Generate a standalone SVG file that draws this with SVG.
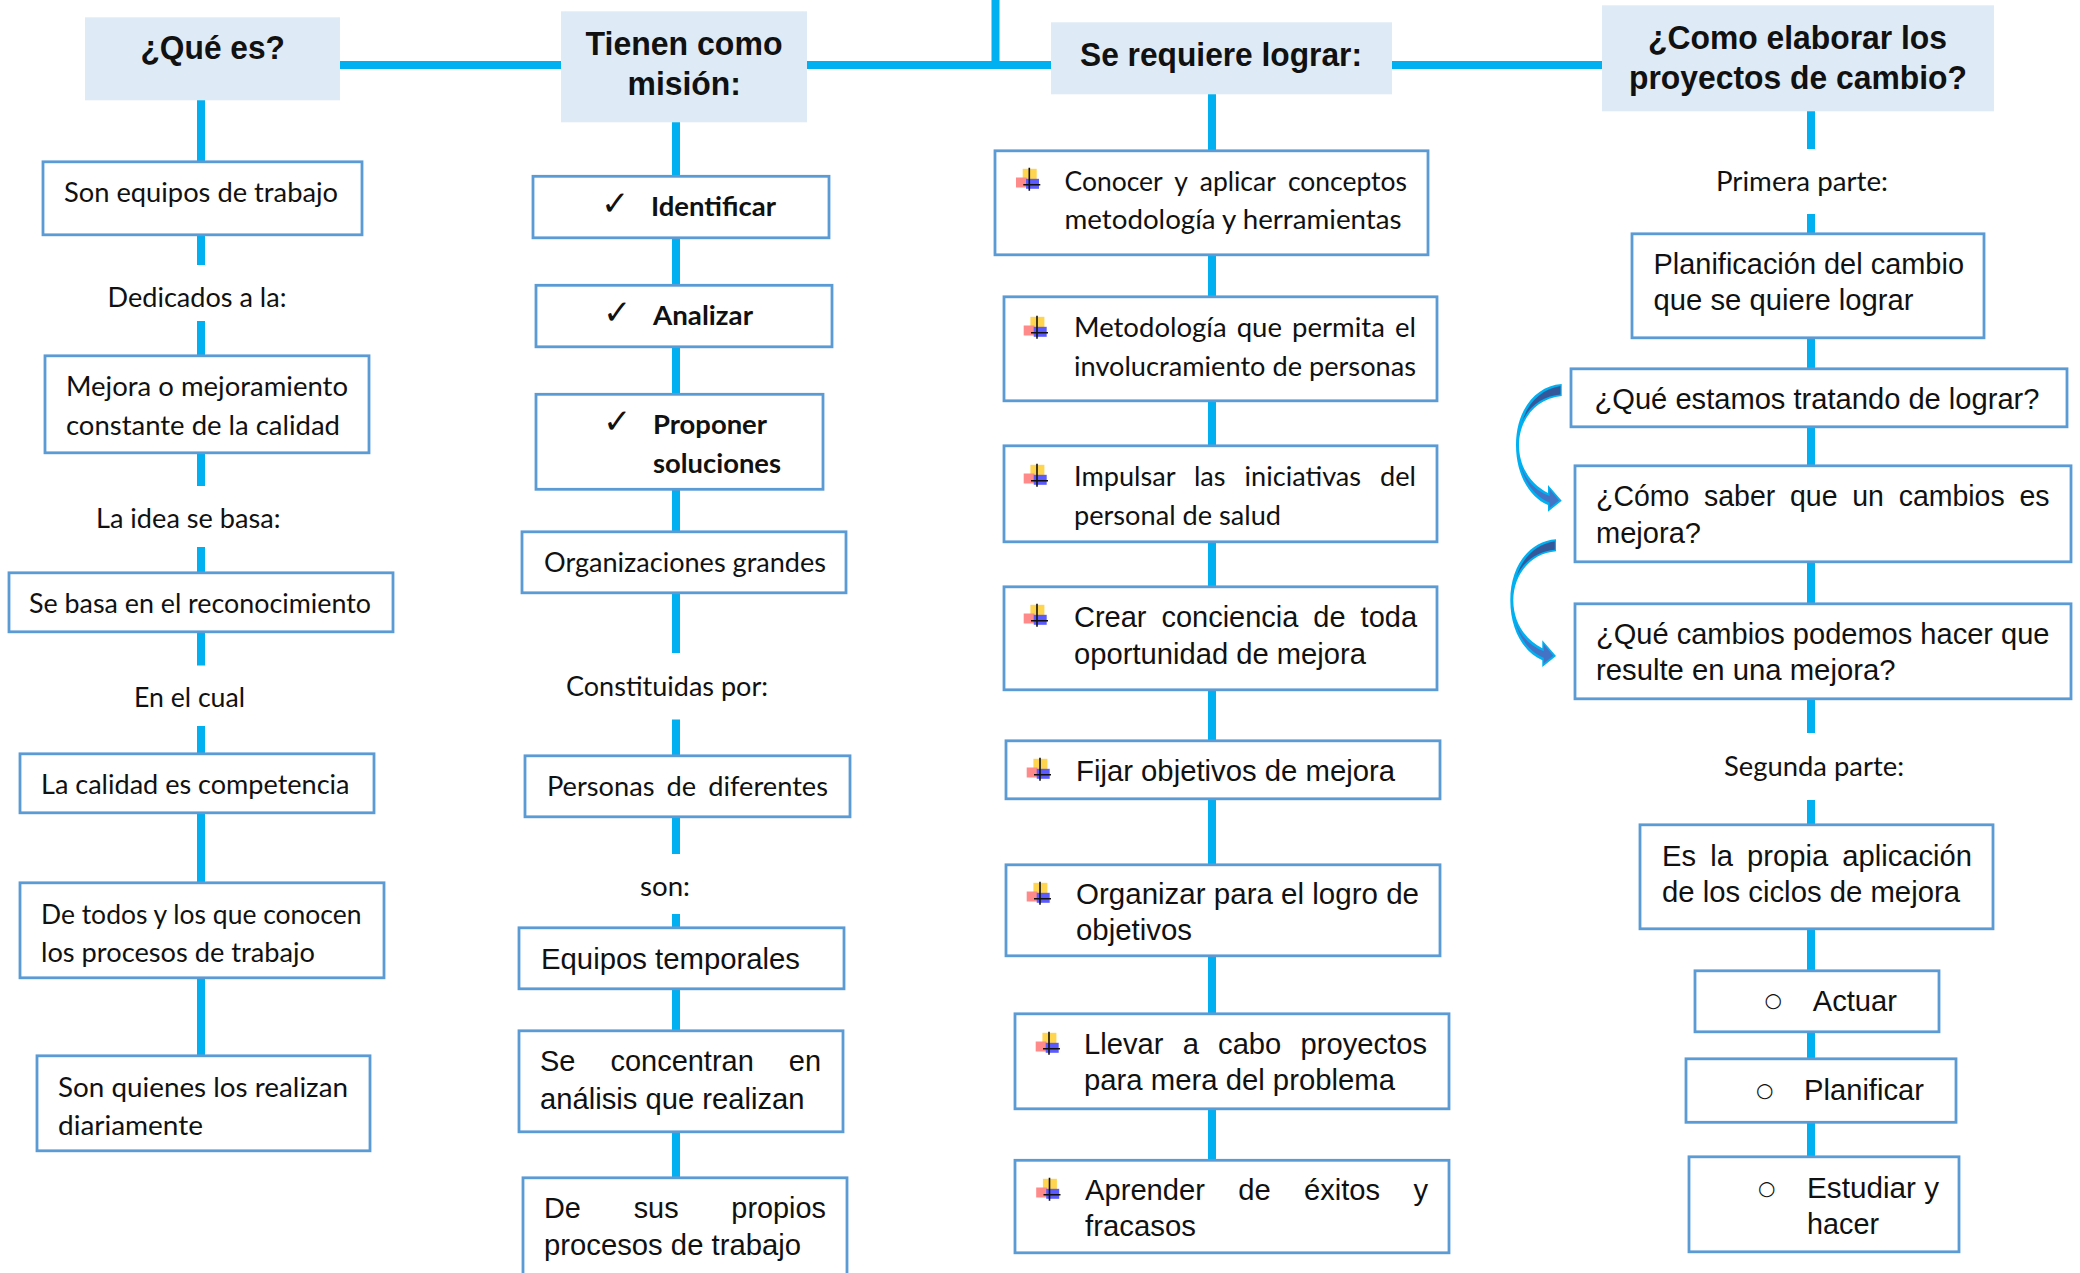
<svg xmlns="http://www.w3.org/2000/svg" xmlns:xlink="http://www.w3.org/1999/xlink" width="2080" height="1273" viewBox="0 0 2080 1273">
<style>
text{fill:#111;white-space:pre}
.b{fill:#fff;stroke:#5b9bd5;stroke-width:2.800}
.h{fill:#deeaf6}
.c{font-family:"Lato","Carlito","Liberation Sans",sans-serif;font-size:27px}
.cb{font-family:"Lato","Liberation Sans",sans-serif;font-size:27px;font-weight:700}
.a{font-family:"Liberation Sans",Arial,sans-serif;font-size:29px;transform:translateY(1.200px)}
.t{font-family:"Liberation Sans",Arial,sans-serif;font-size:33px;font-weight:700}
.k{font-family:"DejaVu Sans",sans-serif;font-size:34px}
.o{font-family:"DejaVu Sans",sans-serif;font-size:20px}
#connectors path{stroke:#00b0f0;stroke-width:8;fill:none}
</style>
<defs>
<filter id="soft" x="-20%" y="-20%" width="140%" height="140%"><feGaussianBlur stdDeviation="0.6"/></filter>
<g id="bullet">
<g filter="url(#soft)"><rect x="-6.6" y="1" width="14" height="12" fill="#ffd54f"/><rect x="-13.3" y="9.7" width="10.7" height="10" fill="#ff8a8a"/><rect x="-3.3" y="11" width="13" height="10" fill="#5a5aff"/></g>
<path d="M0 0V23M-6 17H11" stroke="#111" stroke-width="1.6" fill="none"/>
</g>
<g id="curve">
<path d="M1561.7 384V396C1536 398 1519 420 1519 445C1519 468 1532 485 1548 493V485L1561.7 500.7L1548 511.7V505C1529 497 1516 474 1516 445C1516 412 1534 386 1561.7 384Z" fill="#00b0f0"/>
<path d="M1560.5 386V394.5C1545 396 1530 404 1522 422C1528 402 1542 389 1560.5 386Z" fill="#34589a"/>
<path d="M1549.5 489L1559 500.5L1549.5 508V502.5C1536 497 1525 484 1521 466C1526 481 1536 491 1549.5 496Z" fill="#4472c4"/>
</g>
</defs>
<rect width="2080" height="1273" fill="#fff"/>
<g id="connectors">
<path d="M340 65H561M807 65H1051M1392 65H1602M995.5 0V65"/>
<path d="M201 100V161M201 234V265M201 321V355M201 452V486M201 547V572M201 631V665.500M201 726V753M201 812V882M201 977V1055"/>
<path d="M676 122V175.500M676 237V284.500M676 346V393.500M676 488.600V531M676 592V653M676 719.500V755M676 816V854M676 914V927M676 988V1030M676 1131V1177"/>
<path d="M1212 94V150M1212 254V296M1212 400V445M1212 541V586M1212 689V740M1212 798V864M1212 955V1013M1212 1108V1159.500"/>
<path d="M1811 111V149M1811 214V233M1811 337V368M1811 426V465M1811 561V603M1811 698V733M1811 800V824M1811 928V970M1811 1031V1058M1811 1121.500V1156"/>
<use href="#curve" xlink:href="#curve"/>
<use href="#curve" xlink:href="#curve" transform="translate(-5.700 155.200)"/>
</g>
<g id="nodes" transform="translate(0 0.800)">
<g id="h1"><rect class="h" x="85" y="16.500" width="255" height="83"/><text class="t" x="140.500" y="58" textLength="144.500" lengthAdjust="spacingAndGlyphs">¿Qué es?</text></g>
<g id="h2"><rect class="h" x="561" y="10.500" width="246" height="111"/><text class="t" x="585.500" y="54" textLength="197" lengthAdjust="spacingAndGlyphs">Tienen como</text><text class="t" x="627.500" y="94" textLength="113.500" lengthAdjust="spacingAndGlyphs">misión:</text></g>
<g id="h3"><rect class="h" x="1051" y="21.500" width="341" height="72"/><text class="t" x="1080" y="65" textLength="282" lengthAdjust="spacingAndGlyphs">Se requiere lograr:</text></g>
<g id="h4"><rect class="h" x="1602" y="4.500" width="392" height="106"/><text class="t" x="1648" y="48" textLength="299" lengthAdjust="spacingAndGlyphs">¿Como elaborar los</text><text class="t" x="1629" y="88" textLength="338" lengthAdjust="spacingAndGlyphs">proyectos de cambio?</text></g>

<g id="n1a"><rect class="b" x="43" y="161" width="319" height="73"/><text class="c" x="64" y="201" textLength="274" lengthAdjust="spacingAndGlyphs">Son equipos de trabajo</text></g>
<g id="l1a"><text class="c" x="107.500" y="306" textLength="179" lengthAdjust="spacingAndGlyphs">Dedicados a la:</text></g>
<g id="n1b"><rect class="b" x="45" y="355" width="324" height="97"/><text class="c" x="66" y="395" textLength="282" lengthAdjust="spacingAndGlyphs">Mejora o mejoramiento</text><text class="c" x="66" y="434" textLength="274" lengthAdjust="spacingAndGlyphs">constante de la calidad</text></g>
<g id="l1b"><text class="c" x="96" y="527" textLength="184.500" lengthAdjust="spacingAndGlyphs">La idea se basa:</text></g>
<g id="n1c"><rect class="b" x="9" y="572" width="384" height="59"/><text class="c" x="29" y="612" textLength="342" lengthAdjust="spacingAndGlyphs">Se basa en el reconocimiento</text></g>
<g id="l1c"><text class="c" x="134" y="706" textLength="111" lengthAdjust="spacingAndGlyphs">En el cual</text></g>
<g id="n1d"><rect class="b" x="20" y="753" width="354" height="59"/><text class="c" x="41" y="793" textLength="308.500" lengthAdjust="spacingAndGlyphs">La calidad es competencia</text></g>
<g id="n1e"><rect class="b" x="20" y="882" width="364" height="95"/><text class="c" x="41" y="923" textLength="320.500" lengthAdjust="spacingAndGlyphs">De todos y los que conocen</text><text class="c" x="41" y="961.500" textLength="274" lengthAdjust="spacingAndGlyphs">los procesos de trabajo</text></g>
<g id="n1f"><rect class="b" x="37" y="1055" width="333" height="95"/><text class="c" x="58" y="1096" textLength="290" lengthAdjust="spacingAndGlyphs">Son quienes los realizan</text><text class="c" x="58" y="1134" textLength="145" lengthAdjust="spacingAndGlyphs">diariamente</text></g>

<g id="n2a"><rect class="b" x="533" y="175.500" width="296" height="61.500"/><text class="k" x="601" y="214">✓</text><text class="cb" x="651" y="215" textLength="125" lengthAdjust="spacingAndGlyphs">Identificar</text></g>
<g id="n2b"><rect class="b" x="536" y="284.500" width="296" height="61.500"/><text class="k" x="603" y="323">✓</text><text class="cb" x="653" y="324.500" textLength="100" lengthAdjust="spacingAndGlyphs">Analizar</text></g>
<g id="n2c"><rect class="b" x="536" y="393.500" width="287" height="95"/><text class="k" x="603" y="432">✓</text><text class="cb" x="653" y="433" textLength="114" lengthAdjust="spacingAndGlyphs">Proponer</text><text class="cb" x="653" y="472" textLength="128" lengthAdjust="spacingAndGlyphs">soluciones</text></g>
<g id="n2d"><rect class="b" x="522" y="531" width="324" height="61"/><text class="c" x="544" y="571" textLength="282" lengthAdjust="spacingAndGlyphs">Organizaciones grandes</text></g>
<g id="l2a"><text class="c" x="566" y="695" textLength="202" lengthAdjust="spacingAndGlyphs">Constituidas por:</text></g>
<g id="n2e"><rect class="b" x="525" y="755" width="325" height="61"/><text class="c" x="547" y="795.500" word-spacing="5" textLength="281" lengthAdjust="spacingAndGlyphs">Personas de diferentes</text></g>
<g id="l2b"><text class="c" x="640" y="895" textLength="50" lengthAdjust="spacingAndGlyphs">son:</text></g>
<g id="n2f"><rect class="b" x="519" y="927" width="325" height="61"/><text class="a" x="541" y="966.500" textLength="259" lengthAdjust="spacingAndGlyphs">Equipos temporales</text></g>
<g id="n2g"><rect class="b" x="519" y="1030" width="324" height="101"/><text class="a" x="540" y="1069" word-spacing="27" textLength="281" lengthAdjust="spacingAndGlyphs">Se concentran en</text><text class="a" x="540" y="1106.500" textLength="264.500" lengthAdjust="spacingAndGlyphs">análisis que realizan</text></g>
<g id="n2h"><rect class="b" x="523" y="1177" width="324" height="110"/><text class="a" x="544" y="1216" word-spacing="45" textLength="282" lengthAdjust="spacingAndGlyphs">De sus propios</text><text class="a" x="544" y="1253" textLength="257" lengthAdjust="spacingAndGlyphs">procesos de trabajo</text></g>

<g id="n3a"><rect class="b" x="995" y="150" width="433" height="104"/><use href="#bullet" xlink:href="#bullet" x="1029.300" y="167"/><text class="c" x="1064.500" y="190" word-spacing="6" textLength="342.500" lengthAdjust="spacingAndGlyphs">Conocer y aplicar conceptos</text><text class="c" x="1064.500" y="228" textLength="337" lengthAdjust="spacingAndGlyphs">metodología y herramientas</text></g>
<g id="n3b"><rect class="b" x="1004" y="296" width="433" height="104"/><use href="#bullet" xlink:href="#bullet" x="1037" y="315"/><text class="c" x="1074" y="336" word-spacing="3" textLength="342" lengthAdjust="spacingAndGlyphs">Metodología que permita el</text><text class="c" x="1074" y="375" textLength="342" lengthAdjust="spacingAndGlyphs">involucramiento de personas</text></g>
<g id="n3c"><rect class="b" x="1004" y="445" width="433" height="96"/><use href="#bullet" xlink:href="#bullet" x="1037" y="463"/><text class="c" x="1074" y="485" word-spacing="12" textLength="342" lengthAdjust="spacingAndGlyphs">Impulsar las iniciativas del</text><text class="c" x="1074" y="524" textLength="207" lengthAdjust="spacingAndGlyphs">personal de salud</text></g>
<g id="n3d"><rect class="b" x="1004" y="586" width="433" height="103"/><use href="#bullet" xlink:href="#bullet" x="1037" y="603"/><text class="a" x="1074" y="624.500" word-spacing="7" textLength="343" lengthAdjust="spacingAndGlyphs">Crear conciencia de toda</text><text class="a" x="1074" y="661.500" textLength="292" lengthAdjust="spacingAndGlyphs">oportunidad de mejora</text></g>
<g id="n3e"><rect class="b" x="1006" y="740" width="434" height="58"/><use href="#bullet" xlink:href="#bullet" x="1040" y="757"/><text class="a" x="1076" y="779" textLength="319" lengthAdjust="spacingAndGlyphs">Fijar objetivos de mejora</text></g>
<g id="n3f"><rect class="b" x="1006" y="864" width="434" height="91"/><use href="#bullet" xlink:href="#bullet" x="1040" y="881"/><text class="a" x="1076" y="902" textLength="343" lengthAdjust="spacingAndGlyphs">Organizar para el logro de</text><text class="a" x="1076" y="938" textLength="116" lengthAdjust="spacingAndGlyphs">objetivos</text></g>
<g id="n3g"><rect class="b" x="1015" y="1013" width="434" height="95"/><use href="#bullet" xlink:href="#bullet" x="1049" y="1031"/><text class="a" x="1084" y="1052" word-spacing="11" textLength="343" lengthAdjust="spacingAndGlyphs">Llevar a cabo proyectos</text><text class="a" x="1084" y="1088" textLength="311" lengthAdjust="spacingAndGlyphs">para mera del problema</text></g>
<g id="n3h"><rect class="b" x="1015" y="1159.500" width="434" height="92.500"/><use href="#bullet" xlink:href="#bullet" x="1049.500" y="1177"/><text class="a" x="1085" y="1198" word-spacing="25" textLength="343" lengthAdjust="spacingAndGlyphs">Aprender de éxitos y</text><text class="a" x="1085" y="1234" textLength="111" lengthAdjust="spacingAndGlyphs">fracasos</text></g>

<g id="l4a"><text class="c" x="1716" y="190" textLength="172" lengthAdjust="spacingAndGlyphs">Primera parte:</text></g>
<g id="n4a"><rect class="b" x="1632" y="233" width="352" height="104"/><text class="a" x="1653.500" y="272" textLength="310.500" lengthAdjust="spacingAndGlyphs">Planificación del cambio</text><text class="a" x="1653.500" y="308" textLength="260" lengthAdjust="spacingAndGlyphs">que se quiere lograr</text></g>
<g id="n4b"><rect class="b" x="1571" y="368" width="496" height="58"/><text class="a" x="1594.500" y="407" textLength="445" lengthAdjust="spacingAndGlyphs">¿Qué estamos tratando de lograr?</text></g>
<g id="n4c"><rect class="b" x="1575" y="465" width="496" height="96"/><text class="a" x="1596" y="504" word-spacing="7" textLength="453.500" lengthAdjust="spacingAndGlyphs">¿Cómo saber que un cambios es</text><text class="a" x="1596" y="540.500" textLength="105" lengthAdjust="spacingAndGlyphs">mejora?</text></g>
<g id="n4d"><rect class="b" x="1575" y="603" width="496" height="95"/><text class="a" x="1596" y="642" textLength="453.500" lengthAdjust="spacingAndGlyphs">¿Qué cambios podemos hacer que</text><text class="a" x="1596" y="678" textLength="299.500" lengthAdjust="spacingAndGlyphs">resulte en una mejora?</text></g>
<g id="l4b"><text class="c" x="1724" y="775" textLength="180" lengthAdjust="spacingAndGlyphs">Segunda parte:</text></g>
<g id="n4e"><rect class="b" x="1640" y="824" width="353" height="104"/><text class="a" x="1662" y="863.500" word-spacing="6" textLength="310" lengthAdjust="spacingAndGlyphs">Es la propia aplicación</text><text class="a" x="1662" y="899.500" textLength="298" lengthAdjust="spacingAndGlyphs">de los ciclos de mejora</text></g>
<g id="n4f"><rect class="b" x="1695" y="970" width="244" height="61"/><text class="o" x="1764.500" y="1006.500">○</text><text class="a" x="1812.700" y="1008.500" textLength="84.300" lengthAdjust="spacingAndGlyphs">Actuar</text></g>
<g id="n4g"><rect class="b" x="1686" y="1058" width="270" height="63.500"/><text class="o" x="1756" y="1096">○</text><text class="a" x="1804" y="1097.500" textLength="120" lengthAdjust="spacingAndGlyphs">Planificar</text></g>
<g id="n4h"><rect class="b" x="1689" y="1156" width="270" height="95"/><text class="o" x="1758" y="1194">○</text><text class="a" x="1807" y="1195.500" textLength="132" lengthAdjust="spacingAndGlyphs">Estudiar y</text><text class="a" x="1807" y="1232" textLength="72" lengthAdjust="spacingAndGlyphs">hacer</text></g>
</g>
</svg>
